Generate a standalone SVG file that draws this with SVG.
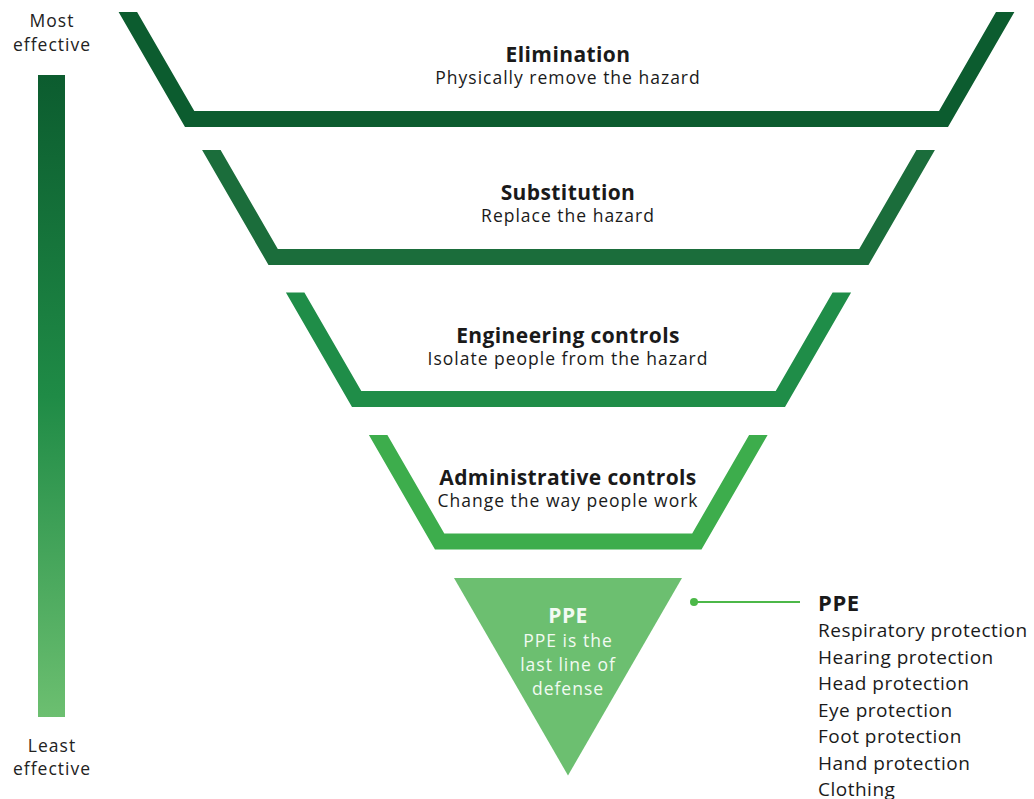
<svg xmlns="http://www.w3.org/2000/svg" width="1034" height="799" viewBox="0 0 1034 799">
<defs>
<linearGradient id="bar" x1="0" y1="0" x2="0" y2="1">
<stop offset="0" stop-color="#0c5c2f"/>
<stop offset="0.5" stop-color="#1f8b46"/>
<stop offset="1" stop-color="#6cbf70"/>
</linearGradient>
<style>
text{font-family:"Open Sans","Noto Sans","Liberation Sans",sans-serif;fill:#1a1a1a}
.t{font-size:21px;font-weight:700;text-anchor:middle;letter-spacing:0.4px}
.s{font-size:17.5px;text-anchor:middle;letter-spacing:1px}
.side{font-size:17.5px;text-anchor:middle;fill:#222;letter-spacing:1px}
.w{fill:#f2faf2}
.lh{font-size:22px;font-weight:700;letter-spacing:0.6px}
.li{font-size:19px;letter-spacing:0.5px}
</style>
</defs>
<rect width="1034" height="799" fill="#fff"/>
<g id="scale">
<rect x="38" y="75" width="27" height="642" fill="url(#bar)"/>
<text class="side" x="52" y="26.5">Most</text>
<text class="side" x="52" y="50.5">effective</text>
<text class="side" x="52" y="751.5">Least</text>
<text class="side" x="52" y="775">effective</text>
</g>
<g id="elimination">
<polygon fill="#0c5c2f" points="118.6,12 185,127 948,127 1014.4,12 996,12 939,111 194.3,111 137.1,12"/>
<text class="t" x="568" y="62">Elimination</text>
<text class="s" x="568" y="84">Physically remove the hazard</text>
</g>
<g id="substitution">
<polygon fill="#1b6d3b" points="202.1,150 268.5,265 868.5,265 934.9,150 916.4,150 859.2,249 277.8,249 220.6,150"/>
<text class="t" x="568" y="200">Substitution</text>
<text class="s" x="568" y="222">Replace the hazard</text>
</g>
<g id="engineering">
<polygon fill="#1f8d48" points="285.9,292.5 352,407 785,407 851.1,292.5 832.6,292.5 775.7,391 361.3,391 304.4,292.5"/>
<text class="t" x="568" y="342.5">Engineering controls</text>
<text class="s" x="568" y="364.5">Isolate people from the hazard</text>
</g>
<g id="administrative">
<polygon fill="#3dad4c" points="368.9,435 435,549.5 701.5,549.5 767.6,435 749.1,435 692.2,533.5 444.3,533.5 387.4,435"/>
<text class="t" x="568" y="485">Administrative controls</text>
<text class="s" x="568" y="507">Change the way people work</text>
</g>
<g id="ppe">
<polygon fill="#6cbf70" points="454,578 682,578 568,775.5"/>
<text class="t w" x="568" y="623">PPE</text>
<text class="s w" x="568" y="647">PPE is the</text>
<text class="s w" x="568" y="671">last line of</text>
<text class="s w" x="568" y="695">defense</text>
</g>
<g id="connectors">
<circle cx="694" cy="602" r="4" fill="#4cb848"/>
<line x1="694" y1="602" x2="800" y2="602" stroke="#4cb848" stroke-width="2"/>
</g>
<g id="ppe-list">
<text class="lh" x="818" y="610.5">PPE</text>
<text class="li" x="818" y="637">Respiratory protection</text>
<text class="li" x="818" y="663.5">Hearing protection</text>
<text class="li" x="818" y="690">Head protection</text>
<text class="li" x="818" y="716.5">Eye protection</text>
<text class="li" x="818" y="743">Foot protection</text>
<text class="li" x="818" y="769.5">Hand protection</text>
<text class="li" x="818" y="796">Clothing</text>
</g>
</svg>
